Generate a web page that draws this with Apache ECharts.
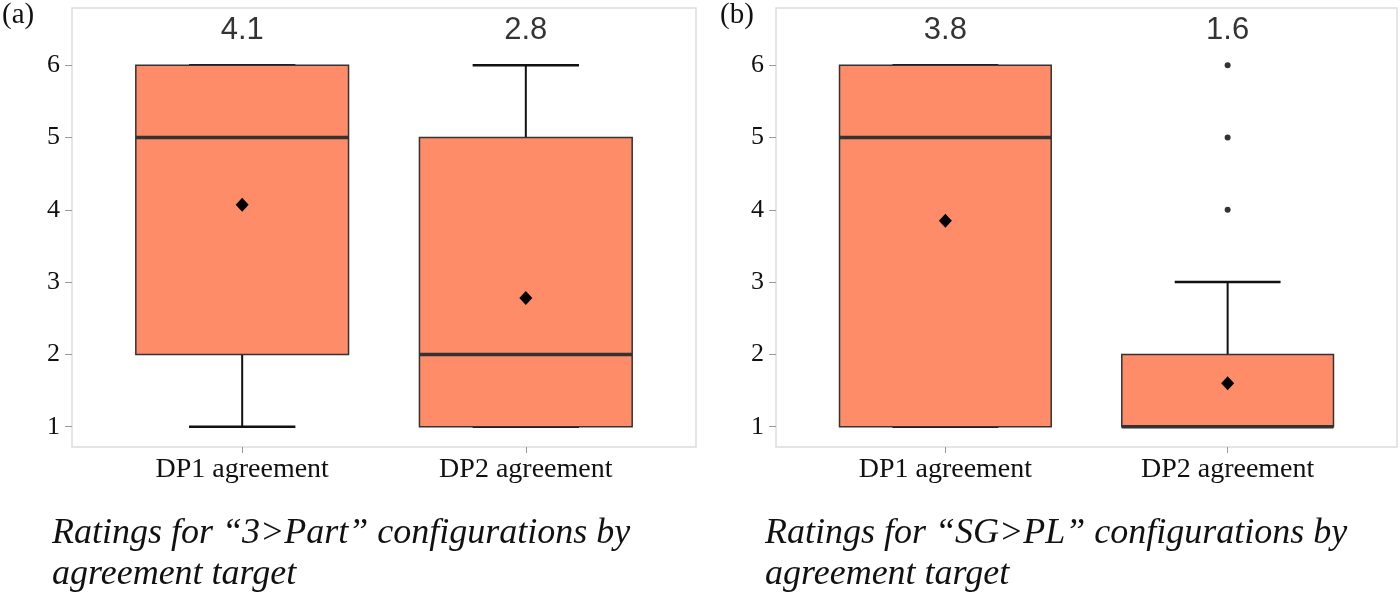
<!DOCTYPE html>
<html>
<head>
<meta charset="utf-8">
<script src="https://cdn.jsdelivr.net/npm/echarts@6/dist/echarts.min.js"></script>
<style>
  html, body { margin: 0; padding: 0; background: #fff; }
  #chart { width: 1400px; height: 602px; }
</style>
</head>
<body>
<div id="chart"></div>
<script>
const categories = ["DP1 agreement", "DP2 agreement"];
const yTicks = [1, 2, 3, 4, 5, 6];
// [min, Q1, median, Q3, max] per category
const boxA = [[1, 2, 5, 6, 6], [1, 1, 2, 5, 6]];
const boxB = [[1, 1, 5, 6, 6], [1, 1, 1, 2, 3]];
const meanA = [4.07, 2.78];
const meanB = [3.85, 1.6];
const meanLabelA = ["4.1", "2.8"];
const meanLabelB = ["3.8", "1.6"];
// [category position, value]
const outliersB = [[2, 4], [2, 5], [2, 6]];
const panelTags = ["(a)", "(b)"];
const captionA = ["Ratings for \u201c3>Part\u201d configurations by", "agreement target"];
const captionB = ["Ratings for \u201cSG>PL\u201d configurations by", "agreement target"];

const chart = echarts.init(document.getElementById("chart"));

const BOX_FILL = "#FF8C69";
const BOX_LINE = "#333333";
const SERIF = "'Liberation Serif', 'DejaVu Serif', serif";
const LABEL_Y = 6.48;

const renderBox = (params, api) => {
  const x = api.value(0);
  const lo = api.value(1);
  const q1 = api.value(2);
  const med = api.value(3);
  const q3 = api.value(4);
  const hi = api.value(5);
  const half = 0.375;
  const cap = 0.1875;
  const p = (vx, vy) => api.coord([vx, vy]);
  const line = (a, b, w, c) => ({
    type: "line",
    shape: { x1: a[0], y1: a[1], x2: b[0], y2: b[1] },
    style: { stroke: c, lineWidth: w },
  });
  const tl = p(x - half, q3);
  const br = p(x + half, q1);
  return {
    type: "group",
    children: [
      line(p(x, q3), p(x, hi), 2, "#111"),
      line(p(x, lo), p(x, q1), 2, "#111"),
      line(p(x - cap, hi), p(x + cap, hi), 2.5, "#111"),
      line(p(x - cap, lo), p(x + cap, lo), 2.5, "#111"),
      {
        type: "rect",
        shape: { x: tl[0], y: tl[1], width: br[0] - tl[0], height: br[1] - tl[1] },
        style: { fill: BOX_FILL, stroke: BOX_LINE, lineWidth: 1.5 },
      },
      line(p(x - half, med), p(x + half, med), 3.5, BOX_LINE),
    ],
  };
};

const makeX = (gridIndex) => ({
  type: "value",
  gridIndex,
  min: 0.4,
  max: 2.6,
  splitLine: { show: false },
  axisLine: { show: false },
  axisTick: { show: true, customValues: [1, 2], length: 6, lineStyle: { color: "#999" } },
  axisLabel: {
    customValues: [1, 2],
    formatter: (v) => categories[Math.round(v) - 1],
    fontFamily: SERIF,
    fontSize: 28,
    color: "#111",
    margin: 9,
  },
});

const makeY = (gridIndex) => ({
  type: "value",
  gridIndex,
  min: 0.72,
  max: 6.79,
  splitLine: { show: false },
  axisLine: { show: false },
  axisTick: { show: true, customValues: yTicks, length: 7, lineStyle: { color: "#999" } },
  axisLabel: {
    customValues: yTicks,
    fontFamily: SERIF,
    fontSize: 26,
    color: "#111",
    margin: 12,
  },
});

const panelSeries = (idx, boxes, means, labels, outliers) => {
  const list = [
    {
      type: "custom",
      xAxisIndex: idx,
      yAxisIndex: idx,
      renderItem: renderBox,
      encode: { x: 0, y: [1, 2, 3, 4, 5] },
      data: boxes.map((b, i) => [i + 1, ...b]),
      z: 2,
    },
    {
      type: "scatter",
      xAxisIndex: idx,
      yAxisIndex: idx,
      symbol: "diamond",
      symbolSize: [13, 14],
      itemStyle: { color: "#000", opacity: 1 },
      data: means.map((m, i) => [i + 1, m]),
      z: 5,
    },
    {
      type: "scatter",
      xAxisIndex: idx,
      yAxisIndex: idx,
      symbolSize: 0,
      label: {
        show: true,
        position: "inside",
        formatter: (d) => labels[d.dataIndex],
        fontFamily: "'Liberation Sans', Arial, sans-serif",
        fontSize: 31,
        color: "#000",
      },
      data: labels.map((l, i) => [i + 1, LABEL_Y]),
      z: 5,
    },
  ];
  if (outliers.length) {
    list.push({
      type: "scatter",
      xAxisIndex: idx,
      yAxisIndex: idx,
      symbolSize: 6,
      itemStyle: { color: "#333", opacity: 1 },
      data: outliers,
      z: 5,
    });
  }
  return list;
};

const captionText = (left, top, text) => ({
  type: "text",
  left,
  top,
  style: {
    text,
    font: "italic 36px " + SERIF,
    fill: "#111",
  },
});

chart.setOption({
  animation: false,
  backgroundColor: "#fff",
  grid: [
    { left: 72, top: 8, width: 624, height: 439, show: true, borderColor: "#dddddd", borderWidth: 1.5 },
    { left: 776, top: 8, width: 621, height: 439, show: true, borderColor: "#dddddd", borderWidth: 1.5 },
  ],
  xAxis: [makeX(0), makeX(1)],
  yAxis: [makeY(0), makeY(1)],
  series: [
    ...panelSeries(0, boxA, meanA, meanLabelA, []),
    ...panelSeries(1, boxB, meanB, meanLabelB, outliersB),
  ],
  graphic: [
    { type: "text", left: 2, top: 1, style: { text: panelTags[0], font: "29px " + SERIF, fill: "#111" } },
    { type: "text", left: 720, top: 1, style: { text: panelTags[1], font: "29px " + SERIF, fill: "#111" } },
    captionText(52, 516, captionA[0]),
    captionText(52, 557, captionA[1]),
    captionText(765, 516, captionB[0]),
    captionText(765, 557, captionB[1]),
  ],
});
</script>
</body>
</html>
